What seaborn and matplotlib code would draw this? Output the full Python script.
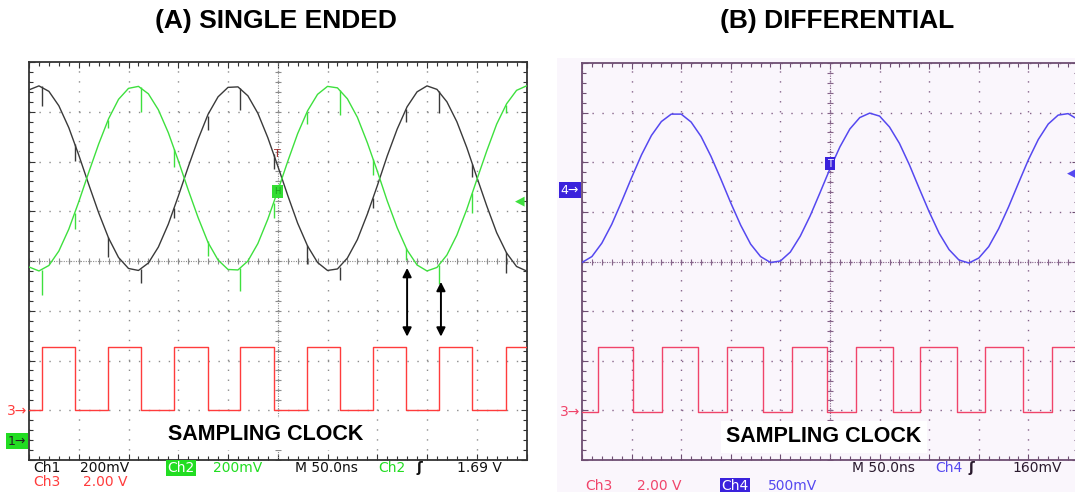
import matplotlib
matplotlib.use("Agg")
import matplotlib.pyplot as plt
import numpy as np
import seaborn as sns
from matplotlib.patches import Rectangle

W, H = 1075, 492

# ---- (A) single ended: time / level in scope divisions ----
t_left = [0.0, 0.2, 0.4, 0.6, 0.8, 1.0, 1.2, 1.4, 1.6, 1.8, 2.0, 2.2, 2.4, 2.6, 2.8, 3.0, 3.2,
          3.4, 3.6, 3.8, 4.0, 4.2, 4.4, 4.6, 4.8, 5.0, 5.2, 5.4, 5.6, 5.8, 6.0, 6.2, 6.4, 6.6,
          6.8, 7.0, 7.2, 7.4, 7.6, 7.8, 8.0, 8.2, 8.4, 8.6, 8.8, 9.0, 9.2, 9.4, 9.6, 9.8, 10.0]
ch1_black = [7.44, 7.52, 7.41, 7.12, 6.68, 6.13, 5.54, 4.97, 4.46, 4.07, 3.85, 3.81, 3.96, 4.28,
             4.74, 5.30, 5.89, 6.45, 6.95, 7.30, 7.49, 7.50, 7.32, 6.97, 6.48, 5.91, 5.32, 4.76,
             4.30, 3.97, 3.81, 3.84, 4.06, 4.43, 4.94, 5.51, 6.11, 6.65, 7.10, 7.40, 7.52, 7.45,
             7.20, 6.80, 6.28, 5.69, 5.11, 4.57, 4.16, 3.89, 3.80]
ch2_green = [3.88, 3.80, 3.91, 4.20, 4.64, 5.19, 5.78, 6.35, 6.86, 7.25, 7.47, 7.51, 7.36, 7.04,
             6.58, 6.02, 5.43, 4.87, 4.37, 4.02, 3.83, 3.82, 4.00, 4.35, 4.84, 5.41, 6.00, 6.56,
             7.02, 7.35, 7.51, 7.48, 7.26, 6.89, 6.38, 5.81, 5.21, 4.67, 4.22, 3.92, 3.80, 3.87,
             4.12, 4.52, 5.04, 5.63, 6.21, 6.75, 7.16, 7.43, 7.52]

# glitches on the analog traces at every clock edge
clk_edges_left = [0.26, 0.92, 1.59, 2.25, 2.92, 3.59, 4.25, 4.92, 5.58, 6.25, 6.92, 7.58, 8.25, 8.91, 9.58]
ch1_glitch_top = [7.51, 6.35, 4.49, 3.83, 5.06, 6.91, 7.47, 6.15, 4.33, 3.88, 5.26, 7.06, 7.41, 5.95, 4.19]
ch1_glitch_depth = [0.40, 0.33, 0.40, 0.27, 0.20, 0.27, 0.44, 0.30, 0.40, 0.27, 0.20, 0.27, 0.44, 0.27, 0.44]
ch2_glitch_top = [3.81, 4.97, 6.83, 7.49, 6.26, 4.41, 3.85, 5.17, 6.99, 7.44, 6.06, 4.26, 3.91, 5.37, 7.13]
ch2_glitch_depth = [0.50, 0.33, 0.15, 0.50, 0.38, 0.30, 0.45, 0.30, 0.23, 0.50, 0.33, 0.23, 0.37, 0.40, 0.15]

clk_left_t = [0.0, 0.26, 0.92, 1.59, 2.25, 2.92, 3.59, 4.25, 4.92, 5.58, 6.25, 6.92, 7.58, 8.25, 8.91, 9.58, 10.0]
clk_left_v = [1.0, 2.28, 1.0, 2.28, 1.0, 2.28, 1.0, 2.28, 1.0, 2.28, 1.0, 2.28, 1.0, 2.28, 1.0, 2.28, 2.28]

# ---- (B) differential ----
t_right = t_left
ch4_blue = [3.98, 4.10, 4.37, 4.75, 5.21, 5.69, 6.15, 6.54, 6.82, 6.97, 6.97, 6.81, 6.52, 6.12,
            5.66, 5.18, 4.73, 4.35, 4.10, 3.98, 4.01, 4.19, 4.51, 4.92, 5.39, 5.87, 6.31, 6.67,
            6.90, 6.99, 6.93, 6.71, 6.38, 5.95, 5.47, 5.00, 4.57, 4.24, 4.03, 3.97, 4.07, 4.30,
            4.66, 5.10, 5.58, 6.05, 6.46, 6.77, 6.95, 6.98, 6.86]
clk_right_t = [0.0, 0.32, 1.03, 1.61, 2.34, 2.92, 3.65, 4.23, 4.94, 5.52, 6.27, 6.81, 7.56, 8.12, 8.89, 9.47, 10.0]
clk_right_v = [0.97, 2.28, 0.97, 2.28, 0.97, 2.28, 0.97, 2.28, 0.97, 2.28, 0.97, 2.28, 0.97, 2.28, 0.97, 2.28, 2.28]

# double arrows (time, top, bottom) in divisions
arrow_t = [7.60, 8.28]
arrow_top = [3.86, 3.58]
arrow_bottom = [2.48, 2.48]

GREEN = "#3ee03e"
BLACK = "#3a3a3a"
RED_L = "#ff3c3c"
RED_R = "#f0446a"
BLUE = "#5548f0"
BLUE_BOX = "#3a22dc"
LAVENDER = "#faf6fc"

sns.set_style("white")
plt.rcParams["font.family"] = ["DejaVu Sans"]


def graticule(ax, dots, edge, face):
    ax.set_facecolor(face)
    ax.set_xlim(0, 10)
    ax.set_ylim(0, 8)
    ax.set_xticks(np.arange(0, 11, 1))
    ax.set_yticks(np.arange(0, 9, 1))
    ax.set_xticks(np.arange(0, 10.01, 0.2), minor=True)
    ax.set_yticks(np.arange(0, 8.01, 0.2), minor=True)
    ax.tick_params(which="both", direction="in", top=True, right=True, bottom=True, left=True,
                   labelbottom=False, labelleft=False, color=edge, width=0.8)
    ax.tick_params(which="major", length=4)
    ax.tick_params(which="minor", length=3)
    ax.grid(which="major", color=dots, linestyle=(0, (1, 6.16)), linewidth=1.0)
    ax.grid(which="minor", visible=False)
    # centre cross with fine ticks
    ax.axhline(4, color=dots, ls=(0, (1, 1.2)), lw=0.8, zorder=1)
    ax.axvline(5, color=dots, ls=(0, (1, 1.2)), lw=0.8, zorder=1)
    mx = np.arange(0, 10.01, 0.2)
    my = np.arange(0, 8.01, 0.2)
    ax.plot(mx, np.full_like(mx, 4), ls="none", marker="|", ms=5, mew=0.8, color=dots, zorder=1)
    ax.plot(np.full_like(my, 5), my, ls="none", marker="_", ms=5, mew=0.8, color=dots, zorder=1)
    for s in ax.spines.values():
        s.set_visible(True)
        s.set_color(edge)
        s.set_linewidth(1.3)


fig = plt.figure(figsize=(W / 100, H / 100), dpi=100)
fig.patches.append(Rectangle((557 / W, 0), (W - 557) / W, (H - 58) / H, transform=fig.transFigure,
                             facecolor=LAVENDER, edgecolor="none", zorder=-5))

ax_l = fig.add_axes([29 / W, (H - 460) / H, 497.5 / W, 398 / H], zorder=2)
ax_r = fig.add_axes([582 / W, (H - 460) / H, 496 / W, 397 / H], zorder=2)
graticule(ax_l, "#8c8c8c", "#333333", "white")
graticule(ax_r, "#86648a", "#6e4e72", LAVENDER)

# traces (A)
sns.lineplot(x=t_left, y=ch1_black, ax=ax_l, color=BLACK, lw=1.0, estimator=None, sort=False, zorder=3)
sns.lineplot(x=t_left, y=ch2_green, ax=ax_l, color=GREEN, lw=1.0, estimator=None, sort=False, zorder=3)
ax_l.vlines(clk_edges_left, np.subtract(ch1_glitch_top, ch1_glitch_depth), ch1_glitch_top,
            colors=BLACK, lw=1.0, zorder=3)
ax_l.vlines(clk_edges_left, np.subtract(ch2_glitch_top, ch2_glitch_depth), ch2_glitch_top,
            colors=GREEN, lw=1.0, zorder=3)
sns.lineplot(x=clk_left_t, y=clk_left_v, ax=ax_l, color=RED_L, lw=1.0, estimator=None, sort=False,
             drawstyle="steps-post", zorder=3)
for t, top, bot in zip(arrow_t, arrow_top, arrow_bottom):
    ax_l.annotate("", xy=(t, top), xytext=(t, bot),
                  arrowprops=dict(arrowstyle="<|-|>", color="black", lw=1.4, mutation_scale=13,
                                  shrinkA=0, shrinkB=0), zorder=4)

# traces (B)
sns.lineplot(x=t_right, y=ch4_blue, ax=ax_r, color=BLUE, lw=1.1, estimator=None, sort=False, zorder=3)
sns.lineplot(x=clk_right_t, y=clk_right_v, ax=ax_r, color=RED_R, lw=1.0, estimator=None, sort=False,
             drawstyle="steps-post", zorder=3)
for ax in (ax_l, ax_r):
    ax.set_xlim(0, 10)
    ax.set_ylim(0, 8)
    ax.set_xlabel("")
    ax.set_ylabel("")

# scope markers
ax_l.text(-0.03, 0.98, "3→", ha="right", va="center", color=RED_L, fontsize=10, clip_on=False)
ax_l.text(-0.06, 0.38, "1→", ha="right", va="center", color="#222222", fontsize=9, clip_on=False,
          bbox=dict(fc="#22dd22", ec="none", pad=1.2))
ax_l.text(4.99, 5.39, "H", ha="center", va="center", color="#1aa01a", fontsize=6,
          bbox=dict(fc="#33dd33", ec="none", pad=1.5), zorder=5)
ax_l.text(4.99, 6.15, "T", ha="center", va="center", color="#a02828", fontsize=8, zorder=5)
ax_l.text(9.86, 5.21, "◀", ha="center", va="center", color=GREEN, fontsize=9, zorder=5)

ax_r.text(-0.03, 0.97, "3→", ha="right", va="center", color=RED_R, fontsize=10, clip_on=False)
ax_r.text(-0.06, 5.44, "4→", ha="right", va="center", color="white", fontsize=9, clip_on=False,
          bbox=dict(fc=BLUE_BOX, ec="none", pad=1.2))
ax_r.text(5.0, 5.97, "T", ha="center", va="center", color="white", fontsize=7, zorder=5,
          bbox=dict(fc=BLUE_BOX, ec="none", pad=1.2))
ax_r.text(9.88, 5.79, "◀", ha="center", va="center", color=BLUE, fontsize=9, zorder=5)


def ftext(px, py, s, **kw):
    kw.setdefault("fontsize", 10)
    kw.setdefault("va", "center")
    kw.setdefault("ha", "left")
    fig.text(px / W, 1 - py / H, s, zorder=6, **kw)


# titles
ftext(276, 21, "(A) SINGLE ENDED", ha="center", fontsize=19, fontweight="bold",
      family="Liberation Sans", color="black")
ftext(837, 21, "(B) DIFFERENTIAL", ha="center", fontsize=19, fontweight="bold",
      family="Liberation Sans", color="black")
ftext(266, 434, "SAMPLING CLOCK", ha="center", fontsize=15.5, fontweight="bold",
      family="Liberation Sans", color="black", bbox=dict(fc="white", ec="none", pad=4))
ftext(824, 437, "SAMPLING CLOCK", ha="center", fontsize=15.5, fontweight="bold",
      family="Liberation Sans", color="black", bbox=dict(fc="white", ec="none", pad=4))

# scope readouts (A)
ftext(33, 468, "Ch1", color="#111111")
ftext(80, 468, "200mV", color="#111111")
ftext(167, 468, "Ch2", color="white", bbox=dict(fc="#22dd22", ec="none", pad=1))
ftext(213, 468, "200mV", color="#22dd22")
ftext(295, 468, "M 50.0ns", color="#111111")
ftext(378, 468, "Ch2", color="#22dd22")
ftext(416, 468, "ʃ", color="#111111", fontweight="bold")
ftext(457, 468, "1.69 V", color="#111111")
ftext(33, 482, "Ch3", color=RED_L)
ftext(83, 482, "2.00 V", color=RED_L)

# scope readouts (B)
ftext(852, 468, "M 50.0ns", color="#2a1a2e")
ftext(935, 468, "Ch4", color=BLUE)
ftext(969, 468, "ʃ", color="#2a1a2e", fontweight="bold")
ftext(1012, 468, "160mV", color="#2a1a2e")
ftext(585, 486, "Ch3", color=RED_R)
ftext(637, 486, "2.00 V", color=RED_R)
ftext(721, 486, "Ch4", color="white", bbox=dict(fc=BLUE_BOX, ec="none", pad=1))
ftext(768, 486, "500mV", color=BLUE)

fig.savefig("out.png", dpi=100)
